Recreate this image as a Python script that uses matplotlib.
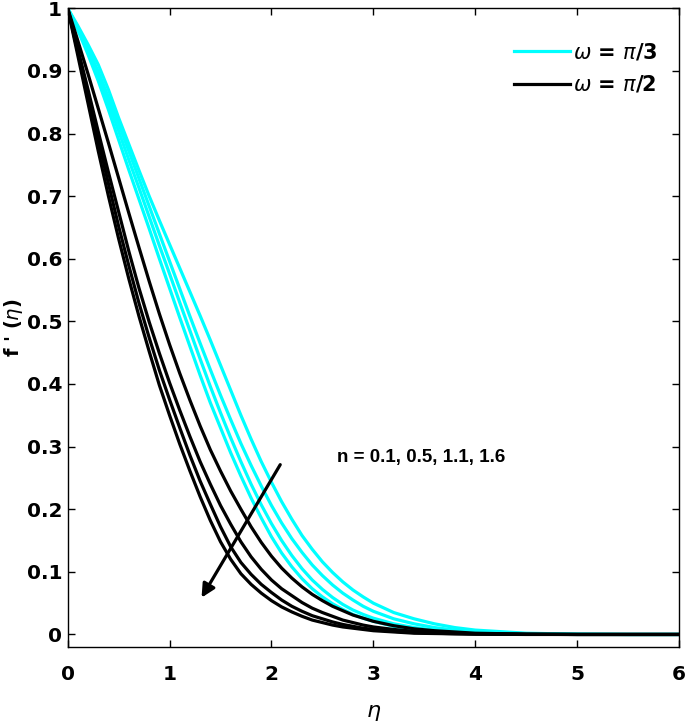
import matplotlib
matplotlib.use("Agg")
import matplotlib.pyplot as plt

eta = [0.0, 0.1, 0.2, 0.3, 0.4, 0.5, 0.6, 0.7, 0.8, 0.9,
       1.0, 1.1, 1.2, 1.3, 1.4, 1.5, 1.6, 1.7, 1.8, 1.9,
       2.0, 2.1, 2.2, 2.3, 2.4, 2.5, 2.6, 2.7, 2.8, 2.9,
       3.0, 3.2, 3.4, 3.6, 3.8, 4.0, 4.5, 5.0, 5.5, 6.0]

# omega = pi/3 (cyan), n = 0.1, 0.5, 1.1, 1.6
cyan_n01 = [1.000, 0.972, 0.942, 0.910, 0.870, 0.825, 0.783, 0.741, 0.700, 0.661,
            0.623, 0.585, 0.547, 0.509, 0.470, 0.430, 0.390, 0.350, 0.312, 0.276,
            0.243, 0.212, 0.184, 0.158, 0.136, 0.116, 0.099, 0.084, 0.071, 0.060,
            0.050, 0.035, 0.025, 0.017, 0.011, 0.007, 0.002, 0.0005, 0, 0]
cyan_n05 = [1.000, 0.969, 0.935, 0.899, 0.858, 0.816, 0.772, 0.728, 0.684, 0.640,
            0.596, 0.552, 0.508, 0.465, 0.423, 0.382, 0.343, 0.305, 0.270, 0.237,
            0.206, 0.178, 0.153, 0.131, 0.111, 0.094, 0.079, 0.066, 0.055, 0.045,
            0.037, 0.025, 0.017, 0.011, 0.007, 0.004, 0.0012, 0.0003, 0, 0]
cyan_n11 = [1.000, 0.967, 0.930, 0.892, 0.849, 0.804, 0.758, 0.713, 0.667, 0.621,
            0.576, 0.530, 0.485, 0.440, 0.396, 0.354, 0.314, 0.276, 0.240, 0.207,
            0.177, 0.150, 0.126, 0.105, 0.087, 0.072, 0.059, 0.048, 0.039, 0.032,
            0.026, 0.017, 0.011, 0.007, 0.004, 0.0025, 0.0007, 0.0001, 0, 0]
cyan_n16 = [1.000, 0.965, 0.926, 0.884, 0.838, 0.790, 0.742, 0.695, 0.648, 0.600,
            0.553, 0.506, 0.460, 0.414, 0.370, 0.330, 0.290, 0.253, 0.218, 0.186,
            0.156, 0.130, 0.108, 0.089, 0.073, 0.060, 0.049, 0.040, 0.032, 0.026,
            0.021, 0.013, 0.008, 0.005, 0.003, 0.002, 0.0005, 0, 0, 0]

# omega = pi/2 (black), n = 0.1, 0.5, 1.1, 1.6
black_n01 = [1.000, 0.948, 0.895, 0.840, 0.785, 0.729, 0.673, 0.618, 0.564, 0.512,
             0.463, 0.417, 0.374, 0.333, 0.295, 0.261, 0.229, 0.200, 0.172, 0.147,
             0.125, 0.106, 0.090, 0.076, 0.064, 0.054, 0.045, 0.038, 0.031, 0.026,
             0.021, 0.014, 0.009, 0.006, 0.004, 0.002, 0.0005, 0, 0, 0]
black_n05 = [1.000, 0.935, 0.870, 0.803, 0.738, 0.675, 0.612, 0.553, 0.499, 0.449,
             0.402, 0.358, 0.316, 0.276, 0.240, 0.206, 0.176, 0.148, 0.124, 0.104,
             0.087, 0.073, 0.062, 0.051, 0.042, 0.035, 0.029, 0.023, 0.019, 0.015,
             0.012, 0.008, 0.005, 0.003, 0.002, 0.0012, 0.0003, 0, 0, 0]
black_n11 = [1.000, 0.930, 0.859, 0.789, 0.720, 0.652, 0.589, 0.529, 0.474, 0.422,
             0.375, 0.330, 0.286, 0.245, 0.208, 0.172, 0.140, 0.115, 0.096, 0.080,
             0.067, 0.055, 0.045, 0.037, 0.030, 0.025, 0.020, 0.016, 0.013, 0.010,
             0.008, 0.005, 0.003, 0.002, 0.0012, 0.0007, 0.0002, 0, 0, 0]
black_n16 = [1.000, 0.924, 0.848, 0.772, 0.700, 0.632, 0.568, 0.508, 0.452, 0.398,
             0.350, 0.304, 0.261, 0.220, 0.182, 0.148, 0.120, 0.097, 0.080, 0.066,
             0.054, 0.044, 0.036, 0.029, 0.023, 0.019, 0.015, 0.012, 0.010, 0.008,
             0.006, 0.004, 0.002, 0.0015, 0.001, 0.0005, 0, 0, 0, 0]

cyan_series = [cyan_n01, cyan_n05, cyan_n11, cyan_n16]
black_series = [black_n01, black_n05, black_n11, black_n16]

x_ticks = [0, 1, 2, 3, 4, 5, 6]
y_ticks = [0, 0.1, 0.2, 0.3, 0.4, 0.5, 0.6, 0.7, 0.8, 0.9, 1]
y_ticklabels = ["0", "0.1", "0.2", "0.3", "0.4", "0.5", "0.6", "0.7", "0.8", "0.9", "1"]
legend_labels = [r"$\omega$ = $\pi$/3", r"$\omega$ = $\pi$/2"]
annot_text = "n = 0.1, 0.5, 1.1, 1.6"

plt.rcParams['font.family'] = ['DejaVu Sans']
plt.rcParams['mathtext.fontset'] = 'dejavusans'

fig = plt.figure(figsize=(6.85, 7.25), dpi=100)
ax = fig.add_axes([0.0988, 0.1076, 0.8925, 0.881])

lw = 2.3
for i, s in enumerate(cyan_series):
    ax.plot(eta, s, color='#00ffff', lw=lw, label=legend_labels[0] if i == 0 else None,
            zorder=2, solid_joinstyle='round')
for i, s in enumerate(black_series):
    ax.plot(eta, s, color='black', lw=lw, label=legend_labels[1] if i == 0 else None,
            zorder=3, solid_joinstyle='round')

ax.set_xlim(0, 6)
ax.set_ylim(-0.02, 1)
ax.set_xticks(x_ticks)
ax.set_xticklabels([str(v) for v in x_ticks])
ax.set_yticks(y_ticks)
ax.set_yticklabels(y_ticklabels)
ax.tick_params(direction='in', length=5, width=1.0, top=True, right=True,
               labelsize=14.5)
ax.tick_params(axis='x', pad=13)
ax.tick_params(axis='y', pad=4)
for lab in ax.get_xticklabels() + ax.get_yticklabels():
    lab.set_fontweight('bold')
for sp in ax.spines.values():
    sp.set_linewidth(1.0)

ax.set_xlabel(r"$\eta$", fontsize=16, labelpad=14)
ax.set_ylabel(r"f ' ($\eta$)", fontsize=14, fontweight='bold')
ax.yaxis.set_label_coords(-0.07, 0.5)

ax.annotate("", xy=(1.3, 0.055), xytext=(2.1, 0.275),
            arrowprops=dict(arrowstyle='-|>', color='black', lw=2.3,
                            mutation_scale=20), zorder=4)
ax.text(2.64, 0.283, annot_text, fontsize=13.5, fontweight='bold',
        family=['Liberation Sans', 'DejaVu Sans'], ha='left', va='center')

leg = ax.legend(loc='upper right', bbox_to_anchor=(0.978, 0.961), frameon=False,
                handlelength=2.65, handletextpad=0.15, labelspacing=0.55,
                borderaxespad=0.0, prop={'weight': 'bold', 'size': 15})

fig.savefig("out.png", dpi=100)
